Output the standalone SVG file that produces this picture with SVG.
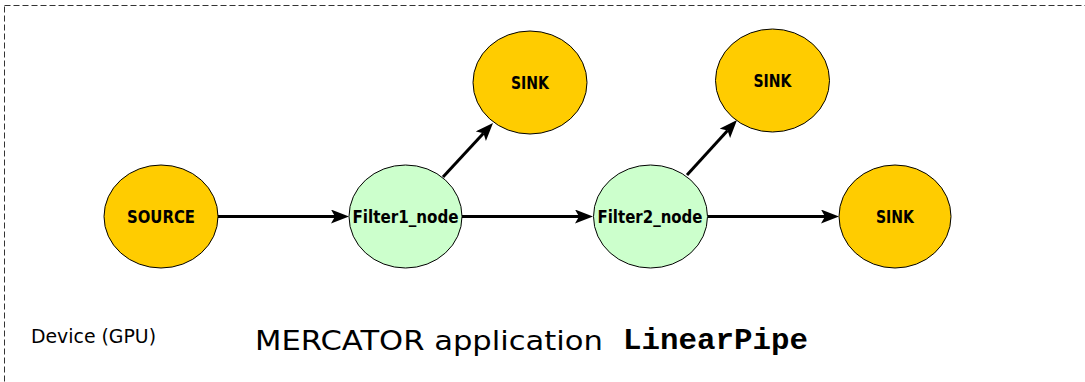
<svg xmlns="http://www.w3.org/2000/svg" width="1085" height="382" viewBox="0 0 1085 382">
  <defs>
    <style>
      .io { fill: #FFCC00; stroke: #000; stroke-width: 1; }
      .flt { fill: #CCFFCC; stroke: #000; stroke-width: 1; }
      .lbl { font-family: "DejaVu Sans", sans-serif; font-weight: bold; font-size: 18px; fill: #000; text-anchor: middle; }
      .edge { stroke: #000; stroke-width: 3; fill: none; marker-end: url(#arr); }
    </style>
    <marker id="arr" markerUnits="userSpaceOnUse" markerWidth="19" markerHeight="15" refX="4" refY="7" orient="auto" viewBox="0 0 19 15">
      <path d="M0,0 L18,7 L0,14 L4,7 z" fill="#000"/>
    </marker>
  </defs>
  <rect x="4.5" y="5.5" width="1200" height="500" fill="none" stroke="#333" stroke-width="1" stroke-dasharray="6 3"/>

  <g id="connectors">
    <path class="edge" d="M218,216.5 L335,216.5"/>
    <path class="edge" d="M462,216.5 L579,216.5"/>
    <path class="edge" d="M708,216.5 L825,216.5"/>
    <path class="edge" d="M443,177 L483.5,133.3"/>
    <path class="edge" d="M687,175 L727.6,130.4"/>
  </g>

  <g id="source">
    <ellipse class="io" cx="161" cy="216.5" rx="57" ry="51.5"/>
    <text class="lbl" x="161" y="223.3" textLength="68" lengthAdjust="spacingAndGlyphs">SOURCE</text>
  </g>
  <g id="filter1">
    <ellipse class="flt" cx="405.5" cy="216.5" rx="56.5" ry="51.5"/>
    <text class="lbl" x="405.5" y="223.3" textLength="106" lengthAdjust="spacingAndGlyphs">Filter1_node</text>
  </g>
  <g id="filter2">
    <ellipse class="flt" cx="650.5" cy="216.5" rx="57" ry="51.5"/>
    <text class="lbl" x="650" y="223.3" textLength="105" lengthAdjust="spacingAndGlyphs">Filter2_node</text>
  </g>
  <g id="sink1">
    <ellipse class="io" cx="530" cy="82.5" rx="57" ry="51.5"/>
    <text class="lbl" x="530" y="89.3" textLength="38" lengthAdjust="spacingAndGlyphs">SINK</text>
  </g>
  <g id="sink2">
    <ellipse class="io" cx="772.5" cy="80.5" rx="57" ry="51.5"/>
    <text class="lbl" x="772.5" y="87.3" textLength="38" lengthAdjust="spacingAndGlyphs">SINK</text>
  </g>
  <g id="sink3">
    <ellipse class="io" cx="895" cy="216.5" rx="56" ry="51.5"/>
    <text class="lbl" x="895" y="223.3" textLength="38" lengthAdjust="spacingAndGlyphs">SINK</text>
  </g>

  <text x="31" y="342.5" font-family="DejaVu Sans, sans-serif" font-size="20" fill="#000" textLength="125" lengthAdjust="spacingAndGlyphs">Device (GPU)</text>
  <text x="255" y="349.5" font-family="DejaVu Sans, sans-serif" font-size="27" fill="#000" textLength="348" lengthAdjust="spacingAndGlyphs">MERCATOR application</text>
  <text x="623" y="349" font-family="Liberation Mono, monospace" font-weight="bold" font-size="30" fill="#000" textLength="185" lengthAdjust="spacingAndGlyphs">LinearPipe</text>
</svg>
